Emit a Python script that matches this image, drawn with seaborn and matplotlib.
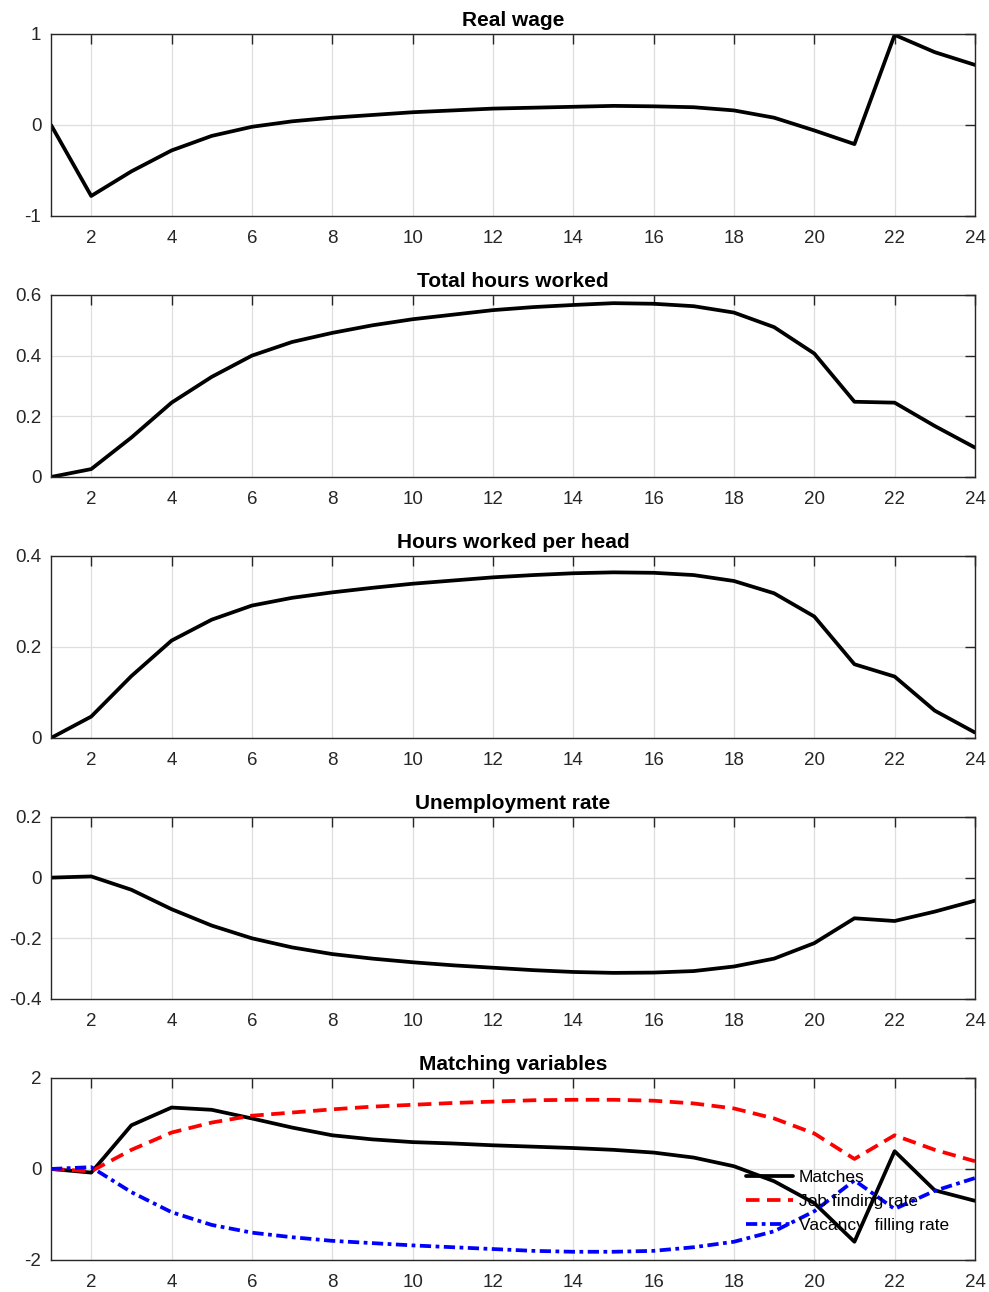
import numpy as np
import pandas as pd
import seaborn as sns
import matplotlib.pyplot as plt

periods = list(range(1, 25))

real_wage = [0.0, -0.78, -0.51, -0.28, -0.12, -0.02, 0.04, 0.08, 0.11, 0.14, 0.16, 0.18,
             0.19, 0.20, 0.21, 0.205, 0.195, 0.16, 0.08, -0.06, -0.21, 0.99, 0.80, 0.66]
total_hours = [0.0, 0.026, 0.13, 0.245, 0.33, 0.40, 0.445, 0.475, 0.50, 0.52, 0.535, 0.55,
               0.56, 0.567, 0.573, 0.571, 0.563, 0.542, 0.494, 0.407, 0.248, 0.245, 0.168, 0.097]
hours_per_head = [0.0, 0.047, 0.136, 0.214, 0.26, 0.291, 0.308, 0.32, 0.33, 0.339, 0.346, 0.353,
                  0.358, 0.362, 0.364, 0.363, 0.358, 0.345, 0.318, 0.267, 0.162, 0.135, 0.06, 0.012]
unemployment = [0.0, 0.004, -0.04, -0.104, -0.158, -0.2, -0.23, -0.252, -0.267, -0.279, -0.289, -0.297,
                -0.305, -0.311, -0.314, -0.313, -0.308, -0.293, -0.267, -0.216, -0.134, -0.143, -0.112, -0.076]
matches = [0.0, -0.08, 0.96, 1.35, 1.30, 1.11, 0.91, 0.74, 0.65, 0.59, 0.56, 0.52,
           0.49, 0.46, 0.42, 0.36, 0.25, 0.06, -0.27, -0.75, -1.6, 0.39, -0.47, -0.7]
job_finding = [0.0, -0.05, 0.42, 0.8, 1.02, 1.17, 1.24, 1.31, 1.37, 1.41, 1.45, 1.48,
               1.51, 1.52, 1.52, 1.50, 1.44, 1.33, 1.11, 0.78, 0.22, 0.74, 0.42, 0.17]
vacancy_filling = [0.0, 0.04, -0.51, -0.95, -1.23, -1.4, -1.5, -1.58, -1.63, -1.68, -1.72, -1.76,
                   -1.8, -1.82, -1.82, -1.8, -1.72, -1.6, -1.37, -0.93, -0.25, -0.88, -0.48, -0.2]

panels = [
    ("Real wage", real_wage, [-1, 0, 1], ["-1", "0", "1"]),
    ("Total hours worked", total_hours, [0, 0.2, 0.4, 0.6], ["0", "0.2", "0.4", "0.6"]),
    ("Hours worked per head", hours_per_head, [0, 0.2, 0.4], ["0", "0.2", "0.4"]),
    ("Unemployment rate", unemployment, [-0.4, -0.2, 0, 0.2], ["-0.4", "-0.2", "0", "0.2"]),
]

sns.set_style("white")
plt.rcParams['font.family'] = ['Liberation Sans', 'DejaVu Sans']
plt.rcParams['axes.unicode_minus'] = False

axcol = '#262626'
lw = 2.7

fig, axes = plt.subplots(5, 1, figsize=(9.89, 12.92), dpi=100)
plt.subplots_adjust(left=0.0516, right=0.9858, top=0.9737, bottom=0.0248, hspace=0.434)


def style_axis(ax, title, yticks, ylabels):
    ax.set_xlim(1, 24)
    ax.set_ylim(yticks[0], yticks[-1])
    ax.set_xticks(range(2, 25, 2))
    ax.set_yticks(yticks)
    ax.set_yticklabels(ylabels)
    ax.set_xlabel("")
    ax.set_ylabel("")
    ax.grid(True, color='#dedede', linewidth=0.9)
    ax.set_axisbelow(True)
    ax.tick_params(direction='in', top=True, right=True, length=7, width=1.0,
                   color=axcol, labelcolor=axcol, labelsize=13.5)
    ax.tick_params(axis='x', pad=10)
    ax.tick_params(axis='y', pad=7)
    for s in ax.spines.values():
        s.set_color(axcol)
        s.set_linewidth(1.0)
    ax.set_title(title, fontsize=15, fontweight='bold', color='black', pad=6)


for ax, (title, vals, yticks, ylabels) in zip(axes[:4], panels):
    df = pd.DataFrame({"t": periods, "v": vals})
    sns.lineplot(data=df, x="t", y="v", ax=ax, color='black', linewidth=lw)
    style_axis(ax, title, yticks, ylabels)

ax = axes[4]
dfm = pd.DataFrame({"t": periods, "Matches": matches, "Job finding rate": job_finding,
                    "Vacancy  filling rate": vacancy_filling})
sns.lineplot(data=dfm, x="t", y="Matches", ax=ax, color='black', linewidth=lw, label="Matches")
sns.lineplot(data=dfm, x="t", y="Job finding rate", ax=ax, color='#ff0000', linewidth=lw,
             linestyle=(0, (3.6, 2.0)), label="Job finding rate")
sns.lineplot(data=dfm, x="t", y="Vacancy  filling rate", ax=ax, color='#0000ff', linewidth=lw,
             linestyle=(0, (3.0, 1.2, 1.0, 1.2)), label="Vacancy  filling rate")
style_axis(ax, "Matching variables", [-2, 0, 2], ["-2", "0", "2"])
leg = ax.legend(loc='center left', bbox_to_anchor=(0.752, 0.32), frameon=False, fontsize=12.5,
                borderpad=0, borderaxespad=0, handlelength=2.7, handletextpad=0.35, labelspacing=0.52)
for t in leg.get_texts():
    t.set_color('black')

fig.savefig("out.png", dpi=100)
